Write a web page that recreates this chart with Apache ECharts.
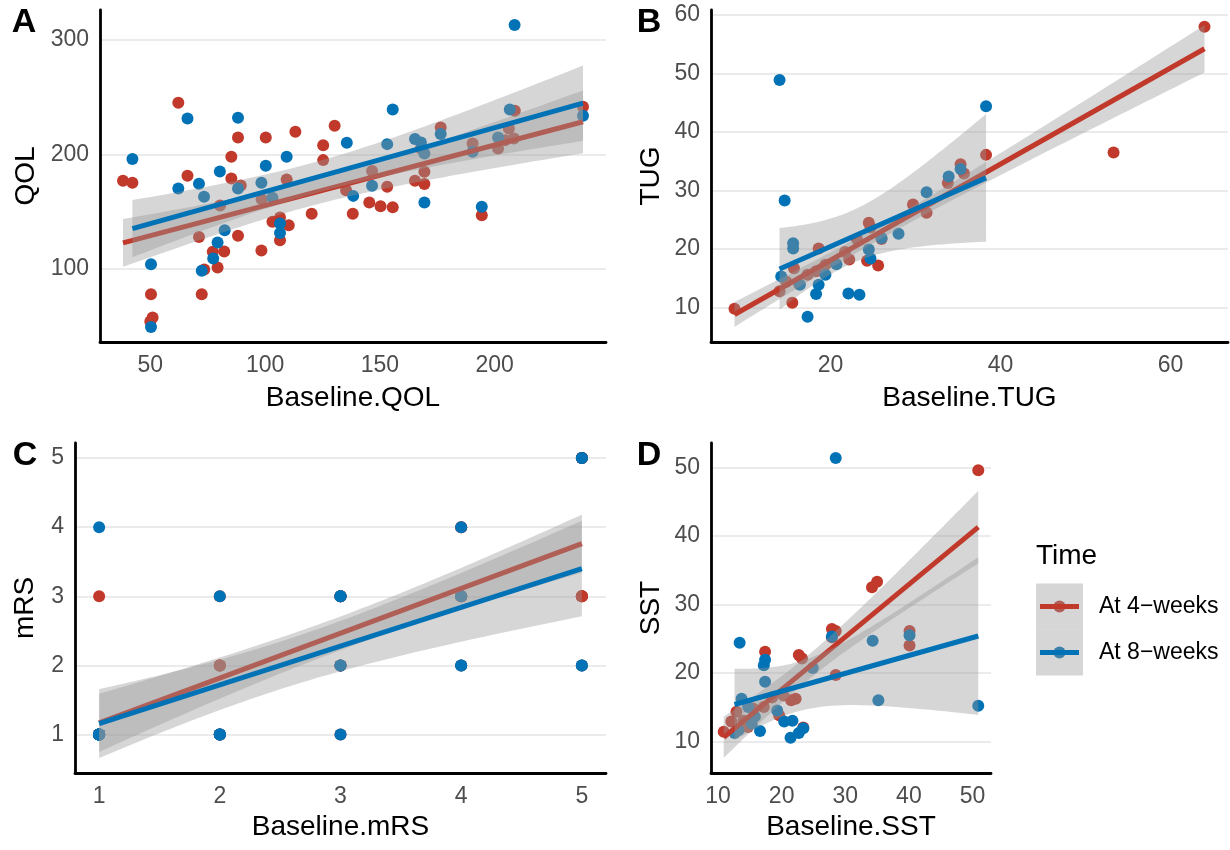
<!DOCTYPE html>
<html>
<head>
<meta charset="utf-8">
<title>Baseline vs follow-up</title>
<script src="https://cdn.jsdelivr.net/npm/echarts@6/dist/echarts.min.js"></script>
<style>
  html, body { margin: 0; padding: 0; background: #fff; }
  #chart { width: 1230px; height: 850px; }
</style>
</head>
<body>
<div id="chart"></div>
<script>
// ---- data: [baseline, follow-up] ----
const qolRed = [[38.1,176.8],[42.2,175.0],[62.2,245.1],[66.2,181.2],[50.3,77.5],[51.0,57.1],[50.0,53.6],[71.2,127.7],[72.4,77.5],[73.5,99.1],[77.2,114.6],[79.3,100.9],[82.2,114.9],[80.4,155.2],[85.3,197.8],[85.3,178.8],[88.2,214.7],[89.4,172.7],[88.2,128.6],[98.4,115.8],[100.3,214.7],[98.5,160.7],[103.2,140.9],[106.5,144.7],[106.5,124.8],[110.3,137.9],[109.4,178.0],[113.2,219.7],[120.3,147.9],[125.3,208.0],[125.3,194.9],[130.3,225.0],[135.3,168.6],[138.2,147.9],[146.6,185.3],[145.4,157.8],[150.3,154.6],[155.6,153.7],[153.2,171.5],[165.3,176.8],[169.4,173.9],[169.4,184.7],[167.9,205.1],[176.5,223.5],[190.4,209.5],[194.4,146.7],[201.5,205.1],[204.7,212.4],[208.4,213.9],[208.8,238.1],[238.5,241.6],[206.2,222.6]];
const qolBlue = [[42.2,195.8],[50.3,103.8],[50.3,48.9],[62.2,170.1],[66.2,231.4],[71.2,174.2],[73.4,162.8],[80.3,185.0],[82.4,133.6],[79.3,122.8],[77.4,108.8],[72.4,98.0],[88.2,232.0],[88.2,170.1],[98.4,175.0],[100.3,189.9],[103.2,161.9],[106.5,139.4],[106.5,131.2],[109.4,197.8],[135.6,210.1],[138.4,163.6],[146.6,172.4],[153.2,208.9],[155.6,239.3],[165.3,213.3],[167.9,210.4],[169.4,200.7],[169.4,157.8],[176.5,217.7],[190.4,202.2],[194.4,154.0],[201.5,214.7],[206.6,239.3],[208.7,313.1],[238.5,233.7]];

const tugRed = [[8.7,9.8],[14.0,12.8],[14.8,14.4],[15.5,10.8],[15.7,16.7],[16.3,14.0],[17.3,15.6],[18.6,20.1],[18.3,16.2],[19.4,17.3],[21.7,19.5],[22.2,18.2],[23.1,21.7],[24.5,24.5],[24.7,23.7],[24.3,18.0],[25.6,17.2],[26.0,21.7],[29.7,27.6],[31.3,26.2],[33.8,31.3],[35.3,34.5],[35.7,32.9],[38.3,36.1],[53.3,36.5],[64.0,58.0]];
const tugBlue = [[14.0,48.9],[14.6,28.3],[15.6,21.0],[15.6,20.1],[14.2,15.3],[16.4,13.9],[17.3,8.4],[18.3,12.3],[18.6,13.9],[19.4,15.6],[20.7,17.4],[22.1,12.4],[23.4,12.2],[24.5,19.9],[24.7,18.4],[26.0,21.9],[28.0,22.6],[31.3,29.7],[33.9,32.4],[35.3,33.7],[38.3,44.4]];

// mRS is on an integer grid, so many patients share a dot
const mrsRed = [[1,1],[1,1],[1,1],[1,1],[1,1],[1,1],[1,1],[1,1],[1,3],
  [2,1],[2,1],[2,1],[2,2],[2,2],[2,2],[2,2],[2,3],
  [3,1],[3,2],[3,2],[3,2],[3,3],[3,3],[3,3],[3,3],[3,3],
  [4,2],[4,3],[4,3],[4,3],[4,3],[4,3],[4,4],[4,4],
  [5,2],[5,3],[5,3],[5,3],[5,3],[5,5],[5,5],[5,5],[5,5]];
const mrsBlue = [[1,1],[1,1],[1,1],[1,1],[1,1],[1,1],[1,1],[1,1],[1,1],[1,1],[1,1],[1,4],
  [2,1],[2,1],[2,1],[2,1],[2,3],
  [3,1],[3,2],[3,2],[3,3],[3,3],[3,3],
  [4,2],[4,2],[4,3],[4,3],[4,4],
  [5,2],[5,2],[5,5],[5,5]];

const sstRed = [[10.9,11.4],[12.1,12.9],[12.9,14.3],[14.0,13.0],[14.7,12.1],[15.5,14.8],[17.4,23.1],[17.2,15.0],[18.5,16.4],[19.6,13.8],[20.3,16.7],[21.5,16.0],[22.2,16.2],[22.7,22.6],[23.2,22.1],[23.4,12.0],[27.9,26.4],[28.5,26.1],[27.9,25.2],[28.5,19.7],[34.2,32.5],[35.0,33.3],[40.1,26.1],[40.1,24.0],[50.9,49.6]];
const sstBlue = [[13.4,24.4],[17.4,21.9],[17.2,21.1],[17.4,18.7],[13.7,16.2],[14.75,15.0],[15.8,13.6],[15.3,12.6],[16.6,11.5],[12.6,11.2],[13.2,11.6],[19.3,14.5],[20.4,12.9],[21.7,13.0],[21.4,10.5],[22.7,11.2],[23.4,11.9],[24.9,20.7],[27.9,25.3],[28.5,51.4],[34.3,24.7],[35.2,16.0],[40.1,25.5],[50.9,15.2]];

// tick labels
const qolXTicks = [50, 100, 150, 200];
const qolYTicks = [100, 200, 300];
const tugXTicks = [20, 40, 60];
const tugYTicks = [10, 20, 30, 40, 50, 60];
const mrsXTicks = [1, 2, 3, 4, 5];
const mrsYTicks = [1, 2, 3, 4, 5];
const sstXTicks = [10, 20, 30, 40, 50];
const sstYTicks = [10, 20, 30, 40, 50];

const groupNames = ['At 4\u2212weeks', 'At 8\u2212weeks'];

const RED = '#C0392B';
const BLUE = '#0072B5';
const RIBBON = 'rgba(153,153,153,0.4)';
const FONT = '"Liberation Sans", Arial, Helvetica, sans-serif';

// t quantile (0.975) via Cornish-Fisher expansion
function qt975(df) {
  const z = 1.959964;
  return z + (z ** 3 + z) / (4 * df)
    + (5 * z ** 5 + 16 * z ** 3 + 3 * z) / (96 * df * df)
    + (3 * z ** 7 + 19 * z ** 5 + 17 * z ** 3 - 15 * z) / (384 * df ** 3);
}

// ordinary least squares + 95% confidence band, like geom_smooth(method = "lm")
function lmFit(pts) {
  const n = pts.length;
  let sx = 0, sy = 0;
  pts.forEach(p => { sx += p[0]; sy += p[1]; });
  const xbar = sx / n, ybar = sy / n;
  let sxx = 0, sxy = 0;
  pts.forEach(p => { sxx += (p[0] - xbar) ** 2; sxy += (p[0] - xbar) * (p[1] - ybar); });
  const b = sxy / sxx, a = ybar - b * xbar;
  let sse = 0;
  pts.forEach(p => { sse += (p[1] - a - b * p[0]) ** 2; });
  const s = Math.sqrt(sse / (n - 2)), t = qt975(n - 2);
  const xs = pts.map(p => p[0]);
  const x0 = Math.min(...xs), x1 = Math.max(...xs);
  const band = [];
  for (let i = 0; i <= 80; i++) {
    const x = x0 + (x1 - x0) * i / 80;
    const yh = a + b * x;
    const se = s * Math.sqrt(1 / n + (x - xbar) ** 2 / sxx);
    band.push([x, yh - t * se, yh + t * se]);
  }
  return { line: [[x0, a + b * x0], [x1, a + b * x1]], band: band };
}

function padRange(vals) {
  const lo = Math.min(...vals), hi = Math.max(...vals);
  const pad = (hi - lo) * 0.05;
  return [lo - pad, hi + pad];
}

function bandSeries(band, i, z) {
  return {
    type: 'custom', xAxisIndex: i, yAxisIndex: i, z: z, silent: true,
    data: [band[0]],
    renderItem: function (params, api) {
      const upper = band.map(b => api.coord([b[0], b[2]]));
      const lower = band.map(b => api.coord([b[0], b[1]])).reverse();
      return { type: 'polygon', shape: { points: upper.concat(lower) }, style: { fill: RIBBON } };
    }
  };
}

const panels = [
  { red: qolRed, blue: qolBlue, xName: 'Baseline.QOL', yName: 'QOL', xTicks: qolXTicks, yTicks: qolYTicks, grid: [100, 10, 506, 332], xGap: 42, yGap: 60 },
  { red: tugRed, blue: tugBlue, xName: 'Baseline.TUG', yName: 'TUG', xTicks: tugXTicks, yTicks: tugYTicks, grid: [711, 10, 517, 332], xGap: 42, yGap: 46 },
  { red: mrsRed, blue: mrsBlue, xName: 'Baseline.mRS', yName: 'mRS', xTicks: mrsXTicks, yTicks: mrsYTicks, grid: [75, 443, 531, 330], xGap: 40, yGap: 36 },
  { red: sstRed, blue: sstBlue, xName: 'Baseline.SST', yName: 'SST', xTicks: sstXTicks, yTicks: sstYTicks, grid: [711, 443, 280, 330], xGap: 40, yGap: 46 }
];

const grids = [], xAxes = [], yAxes = [], series = [];

panels.forEach((p, i) => {
  const fr = lmFit(p.red), fb = lmFit(p.blue);
  const all = p.red.concat(p.blue);
  const xr = padRange(all.map(d => d[0]));
  const yvals = all.map(d => d[1]);
  fr.band.concat(fb.band).forEach(b => { yvals.push(b[1], b[2]); });
  const yr = padRange(yvals);

  grids.push({ left: p.grid[0], top: p.grid[1], width: p.grid[2], height: p.grid[3], containLabel: false, outerBoundsMode: 'none' });

  xAxes.push({
    type: 'value', gridIndex: i, min: xr[0], max: xr[1],
    name: p.xName, nameLocation: 'middle', nameGap: p.xGap,
    nameTextStyle: { fontSize: 28, color: '#000', fontFamily: FONT },
    axisLine: { onZero: false, lineStyle: { color: '#000', width: 2.8 } },
    axisTick: { show: false, customValues: p.xTicks },
    axisLabel: { customValues: p.xTicks, fontSize: 23, color: '#4D4D4D', margin: 12, fontFamily: FONT },
    splitLine: { show: false }
  });
  yAxes.push({
    type: 'value', gridIndex: i, min: yr[0], max: yr[1],
    name: p.yName, nameLocation: 'middle', nameGap: p.yGap,
    nameTextStyle: { fontSize: 28, color: '#000', fontFamily: FONT },
    axisLine: { onZero: false, lineStyle: { color: '#000', width: 2.8 } },
    axisTick: { show: false, customValues: p.yTicks },
    axisLabel: { customValues: p.yTicks, fontSize: 23, color: '#4D4D4D', margin: 11, fontFamily: FONT },
    splitLine: { show: true, lineStyle: { color: '#EBEBEB', width: 2 } }
  });

  series.push(
    { type: 'scatter', name: groupNames[0], xAxisIndex: i, yAxisIndex: i, data: p.red, symbolSize: 12, itemStyle: { color: RED, opacity: 1 }, z: 2 },
    { type: 'scatter', name: groupNames[1], xAxisIndex: i, yAxisIndex: i, data: p.blue, symbolSize: 12, itemStyle: { color: BLUE, opacity: 1 }, z: 3 },
    bandSeries(fr.band, i, 4),
    { type: 'line', name: groupNames[0], xAxisIndex: i, yAxisIndex: i, data: fr.line, showSymbol: false, silent: true, lineStyle: { color: RED, width: 5 }, z: 5 },
    bandSeries(fb.band, i, 6),
    { type: 'line', name: groupNames[1], xAxisIndex: i, yAxisIndex: i, data: fb.line, showSymbol: false, silent: true, lineStyle: { color: BLUE, width: 5 }, z: 7 }
  );
});

// panel tags and the "Time" legend
const tag = (t, x, y) => ({ type: 'text', x: x, y: y, style: { text: t, font: 'bold 34px ' + FONT, fill: '#000', textAlign: 'center', textVerticalAlign: 'middle' } });
const keyRows = [606.5, 652.5];
const graphic = [
  tag('A', 24, 23), tag('B', 649, 23), tag('C', 25, 456), tag('D', 649, 456),
  { type: 'text', x: 1036, y: 556, style: { text: 'Time', font: '28px ' + FONT, fill: '#000', textVerticalAlign: 'middle' } }
];
[RED, BLUE].forEach((c, k) => {
  const cy = keyRows[k];
  graphic.push(
    { type: 'circle', shape: { cx: 1059.5, cy: cy, r: 6 }, style: { fill: c } },
    { type: 'rect', shape: { x: 1036, y: cy - 23, width: 47, height: 46 }, style: { fill: RIBBON } },
    { type: 'line', shape: { x1: 1040, y1: cy, x2: 1079, y2: cy }, style: { stroke: c, lineWidth: 5 } },
    { type: 'text', x: 1099, y: cy, style: { text: groupNames[k], font: '23px ' + FONT, fill: '#000', textVerticalAlign: 'middle' } }
  );
});

const chart = echarts.init(document.getElementById('chart'));
chart.setOption({
  animation: false,
  backgroundColor: '#fff',
  textStyle: { fontFamily: FONT },
  grid: grids,
  xAxis: xAxes,
  yAxis: yAxes,
  series: series,
  graphic: graphic
});
</script>
</body>
</html>
